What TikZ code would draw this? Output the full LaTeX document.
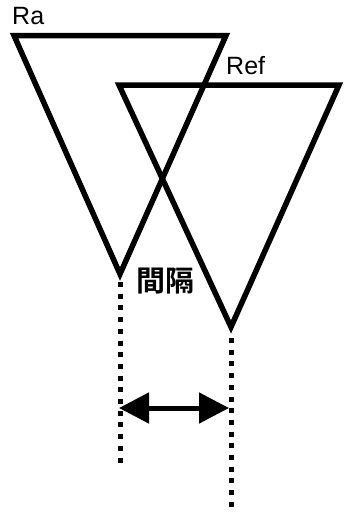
\documentclass[tikz,border=0pt]{standalone}
\usepackage{fontspec}
\setmainfont{Liberation Sans}
\newfontfamily\cjkbold{Noto Sans CJK JP Bold}
\usetikzlibrary{arrows.meta}
\begin{document}
\begin{tikzpicture}[x=1pt,y=-1pt,
  tri/.style={line width=5.5pt,line join=miter},
  dotline/.style={line width=5pt,dash pattern=on 5pt off 6.7pt},
  gap/.style={line width=5pt,{Triangle[length=30pt,width=30pt]}-{Triangle[length=30pt,width=30pt]}},
  lbl/.style={font=\fontsize{25}{25}\selectfont,inner sep=0pt,anchor=base west}]
\useasboundingbox (0,0) rectangle (344,512);
% Ra triangle
\coordinate (a1) at (14,35.5);
\coordinate (a2) at (226,35.5);
\coordinate (a3) at (120,274);
\draw[tri] (a1) -- (a2) -- (a3) -- cycle;
% Ref triangle
\coordinate (b1) at (119,85);
\coordinate (b2) at (339,85);
\coordinate (b3) at (231,327);
\draw[tri] (b1) -- (b2) -- (b3) -- cycle;
% labels
\node[lbl] (ra) at (12,24) {Ra};
\node[lbl] (ref) at (226,74) {Ref};
\node[inner sep=0pt,font=\cjkbold\fontsize{29}{29}\selectfont] (gap) at (165,281) {間隔};
% dotted lines
\coordinate (l1) at (120,282);
\coordinate (l2) at (120,463);
\coordinate (r1) at (231,338);
\coordinate (r2) at (231,508);
\draw[dotline] (l1) -- (l2);
\draw[dotline] (r1) -- (r2);
% arrow
\coordinate (p1) at (119,408);
\coordinate (p2) at (229,408);
\draw[gap] (p1) -- (p2);
\end{tikzpicture}
\end{document}
